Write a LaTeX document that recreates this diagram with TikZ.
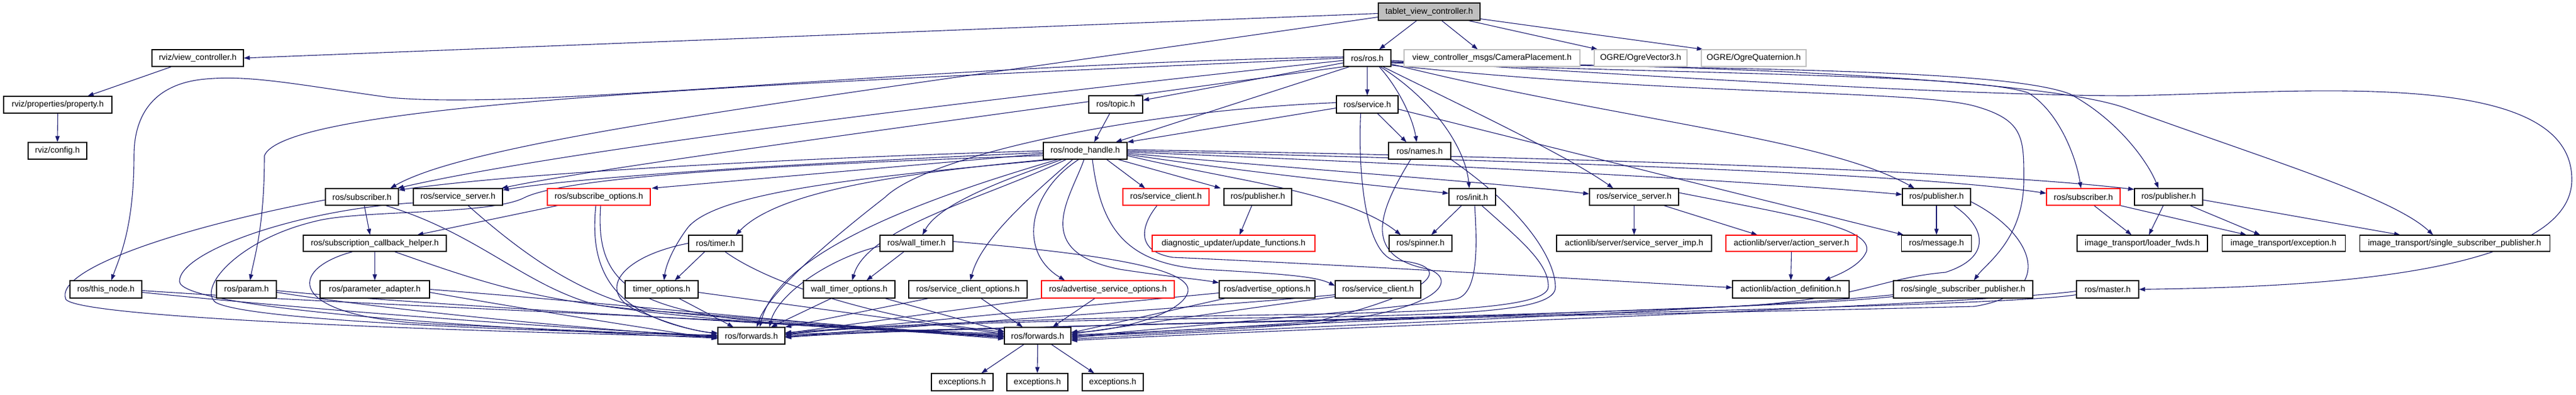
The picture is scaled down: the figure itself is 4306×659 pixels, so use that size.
\documentclass[tikz,border=0pt]{standalone}
\usepackage{fontspec}
\setmainfont{Liberation Sans}
\usetikzlibrary{arrows.meta}
\definecolor{edgec}{HTML}{191970}
\definecolor{rootfill}{HTML}{BFBFBF}
\definecolor{graybd}{HTML}{BFBFBF}
\pgfdeclarelayer{bg}
\pgfsetlayers{bg,main}
\newcommand\mknode[7]{\node[#1,minimum width=#5pt,minimum height=#6pt] (#2) at (#3,-#4) {#7};}
\begin{document}
\begin{tikzpicture}[x=1pt,y=1pt,
 box/.style={draw=black,line width=1.1pt,fill=white,inner sep=0pt,font=\fontsize{14}{16}\selectfont,text=black},
 redbox/.style={box,draw=red},
 greybox/.style={box,draw=graybd},
 rootbox/.style={box,fill=rootfill},
 e/.style={draw=edgec,line width=1.1pt,-{Triangle[length=10pt,width=7pt]}}]
\useasboundingbox (0,0) rectangle (4306,-659);
% nodes
\mknode{rootbox}{root}{2389}{19.5}{170}{29}{tablet\_view\_controller.h}
\mknode{box}{rvc}{330.5}{97}{153}{28}{rviz/view\_controller.h}
\mknode{box}{prop}{96.5}{175}{181}{28}{rviz/properties/property.h}
\mknode{box}{cfg}{96}{252}{98}{28}{rviz/config.h}
\mknode{box}{rosh}{2285.5}{97}{79}{28}{ros/ros.h}
\mknode{greybox}{cam}{2494}{97}{294}{28}{view\_controller\_msgs/CameraPlacement.h}
\mknode{greybox}{ov3}{2742.5}{97}{155}{28}{OGRE/OgreVector3.h}
\mknode{greybox}{oq}{2931.5}{97}{175}{28}{OGRE/OgreQuaternion.h}
\mknode{box}{topic}{1865}{174.5}{90}{29}{ros/topic.h}
\mknode{box}{service}{2285.5}{174.5}{103}{29}{ros/service.h}
\mknode{box}{nh}{1814}{252}{140}{28}{ros/node\_handle.h}
\mknode{box}{names}{2373}{252}{104}{28}{ros/names.h}
% row 329
\mknode{box}{subL}{605}{329}{122}{28}{ros/subscriber.h}
\mknode{box}{ssL}{765.5}{329}{149}{28}{ros/service\_server.h}
\mknode{redbox}{subopt}{1001}{329}{172}{28}{ros/subscribe\_options.h}
\mknode{redbox}{sc1}{1949}{329}{144}{28}{ros/service\_client.h}
\mknode{box}{pub1}{2102.5}{329}{113}{28}{ros/publisher.h}
\mknode{box}{init}{2461}{329}{78}{28}{ros/init.h}
\mknode{box}{ss2}{2731.5}{329}{149}{28}{ros/service\_server.h}
\mknode{box}{pub2}{3237}{329}{114}{28}{ros/publisher.h}
\mknode{redbox}{subR}{3482.5}{329}{123}{28}{ros/subscriber.h}
\mknode{box}{pub3}{3625}{329}{114}{28}{ros/publisher.h}
% row 406.5
\mknode{box}{sch}{626.5}{406.5}{239}{27}{ros/subscription\_callback\_helper.h}
\mknode{box}{timer}{1196}{406.5}{90}{27}{ros/timer.h}
\mknode{box}{wtimer}{1532}{406.5}{122}{27}{ros/wall\_timer.h}
\mknode{redbox}{diag}{2062}{406.5}{272}{27}{diagnostic\_updater/update\_functions.h}
\mknode{box}{spinner}{2374.5}{406.5}{105}{27}{ros/spinner.h}
\mknode{box}{ssimp}{2731.5}{406.5}{259}{27}{actionlib/server/service\_server\_imp.h}
\mknode{redbox}{aserv}{2994.5}{406.5}{219}{27}{actionlib/server/action\_server.h}
\mknode{box}{msg}{3237}{406.5}{117}{27}{ros/message.h}
\mknode{box}{itlf}{3581}{406.5}{218}{27}{image\_transport/loader\_fwds.h}
\mknode{box}{itex}{3817}{406.5}{206}{27}{image\_transport/exception.h}
\mknode{box}{itssp}{4103}{406.5}{318}{27}{image\_transport/single\_subscriber\_publisher.h}
% row 483.5
\mknode{box}{thisnode}{177}{483.5}{120}{29}{ros/this\_node.h}
\mknode{box}{param}{412}{483.5}{100}{29}{ros/param.h}
\mknode{box}{padapt}{626.5}{483.5}{183}{29}{ros/parameter\_adapter.h}
\mknode{box}{topt}{1106}{483.5}{122}{29}{timer\_options.h}
\mknode{box}{wtopt}{1419.5}{483.5}{153}{29}{wall\_timer\_options.h}
\mknode{box}{scopt}{1618}{483.5}{198}{29}{ros/service\_client\_options.h}
\mknode{redbox}{asopt}{1852}{483.5}{222}{29}{ros/advertise\_service\_options.h}
\mknode{box}{aopt}{2118}{483.5}{160}{29}{ros/advertise\_options.h}
\mknode{box}{sc2}{2303.5}{483.5}{143}{29}{ros/service\_client.h}
\mknode{box}{adef}{2993.5}{483.5}{195}{29}{actionlib/action\_definition.h}
\mknode{box}{ssp}{3281.5}{483.5}{233}{29}{ros/single\_subscriber\_publisher.h}
\mknode{box}{master}{3523}{483.5}{104}{29}{ros/master.h}
% bottom rows
\mknode{box}{fwdL}{1256}{561}{112}{28}{ros/forwards.h}
\mknode{box}{fwdM}{1734.5}{561}{111}{28}{ros/forwards.h}
\mknode{box}{ex1}{1608.5}{638.5}{103}{29}{exceptions.h}
\mknode{box}{ex2}{1734}{638.5}{102}{29}{exceptions.h}
\mknode{box}{ex3}{1860}{638.5}{102}{29}{exceptions.h}

\begin{pgfonlayer}{bg}
\fill[white] (0,0) rectangle (4306,-659);
% root
\draw[e] ([yshift=-3pt]root.west) -- (rvc.east);
\draw[e] ([yshift=-9pt]root.west) .. controls (1400,-160) and (800,-230) .. ([xshift=-14pt]subL.north east);
\draw[e] ([xshift=-21pt]root.south) -- ([xshift=20pt]rosh.north);
\draw[e] ([xshift=21pt]root.south) -- ([xshift=-24pt]cam.north);
\draw[e] ([xshift=66pt]root.south) -- ([xshift=-72pt]ov3.north);
\draw[e] ([yshift=-12pt]root.east) -- ([xshift=-85pt]oq.north);
\draw[e] ([xshift=-44pt]rvc.south) -- ([xshift=50pt]prop.north);
\draw[e] (prop.south) -- (cfg.north);
% ros.h
\draw[e] ([yshift=2pt]rosh.west) .. controls (1500,-110) and (900,-185) .. (652,-163) .. controls (500,-142) and (420,-125) .. (344,-132) .. controls (250,-140) and (224,-200) .. (224,-260) .. controls (224,-380) and (200,-430) .. ([xshift=9pt]thisnode.north);
\draw[e] (rosh.west) .. controls (1300,-140) and (480,-170) .. (442,-260) .. controls (442,-380) and (425,-430) .. ([xshift=6pt]param.north);
\draw[e] ([yshift=-4pt]rosh.west) .. controls (1500,-180) and (900,-260) .. ([xshift=-2pt]subL.north east);
\draw[e] (rosh.south west) .. controls (1600,-200) and (1000,-280) .. ([xshift=-2pt]ssL.north east);
\draw[e] ([yshift=-8pt]rosh.west) -- ([yshift=7pt]topic.east);
\draw[e] ([xshift=-30pt]rosh.south) -- ([xshift=51pt]nh.north);
\draw[e] (rosh.south) -- (service.north);
\draw[e] ([xshift=20pt]rosh.south) .. controls (2340,-150) and (2362,-200) .. ([xshift=-5pt]names.north);
\draw[e] ([xshift=22pt]rosh.south) .. controls (2400,-170) and (2450,-250) .. ([xshift=-5pt]init.north);
\draw[e] ([xshift=26pt]rosh.south) .. controls (2450,-180) and (2620,-260) .. ([xshift=-35pt]ss2.north);
\draw[e] ([yshift=-10pt]rosh.east) .. controls (2700,-200) and (3050,-230) .. ([xshift=-37pt]pub2.north);
\draw[e] ([yshift=-8pt]rosh.east) .. controls (2900,-125) and (3300,-125) .. (3390,-155) .. controls (3440,-185) and (3470,-260) .. ([xshift=-4pt]subR.north);
\draw[e] ([yshift=-7pt]rosh.east) .. controls (2900,-115) and (3350,-115) .. (3460,-157) .. controls (3540,-200) and (3590,-270) .. ([xshift=-17pt]pub3.north);
\draw[e] ([yshift=-6pt]rosh.east) .. controls (3000,-110) and (3450,-140) .. (3557,-182) .. controls (3800,-270) and (4000,-330) .. ([xshift=-36pt]itssp.north);
\draw[e] ([yshift=-4pt]rosh.east) .. controls (2800,-130) and (3300,-160) .. (3557,-160) .. controls (3850,-155) and (4299,-110) .. (4299,-300) .. controls (4299,-470) and (3800,-480) .. (master.east);
\draw[e] ([yshift=-12pt]rosh.east) .. controls (2800,-160) and (3200,-150) .. (3300,-177) .. controls (3383,-200) and (3383,-230) .. (3383,-300) .. controls (3383,-400) and (3320,-440) .. ([xshift=18pt]ssp.north);
% topic, service, names
\draw[e] ([xshift=-10pt]topic.south) -- ([xshift=15pt]nh.north);
\draw[e] ([yshift=-6pt]service.west) -- (nh.north east);
\draw[e] ([yshift=3pt]service.west) .. controls (1900,-185) and (1550,-260) .. (1479,-330) .. controls (1350,-430) and (1280,-500) .. ([xshift=9pt]fwdL.north);
\draw[e] ([xshift=-11pt]service.south) .. controls (2270,-280) and (2280,-420) .. (2330,-435) .. controls (2420,-440) and (2430,-480) .. (2200,-537) .. controls (2000,-552) and (1850,-558) .. ([yshift=2pt]fwdM.east);
\draw[e] ([xshift=17pt]service.south) -- ([xshift=-22pt]names.north);
\draw[e] ([yshift=-8pt]service.east) -- ([xshift=-55pt]msg.north);
\draw[e] ([xshift=-15pt]names.south) .. controls (2300,-360) and (2280,-430) .. (2389,-450) .. controls (2440,-470) and (2400,-520) .. (2200,-540) .. controls (2000,-555) and (1850,-560) .. (fwdM.east);
\draw[e] (names.south east) .. controls (2560,-360) and (2600,-440) .. (2600,-480) .. controls (2600,-520) and (2450,-525) .. (2200,-530) .. controls (1700,-535) and (1450,-545) .. ([yshift=3pt]fwdL.east);
% init
\draw[e] ([xshift=-18pt]init.south) -- ([xshift=18pt]spinner.north);
\draw[e] ([xshift=4pt]init.south) .. controls (2470,-420) and (2470,-495) .. (2431,-500) .. controls (2350,-515) and (1900,-552) .. ([yshift=-2pt]fwdM.east);
\draw[e] ([xshift=16pt]init.south) .. controls (2540,-400) and (2590,-440) .. (2588,-480) .. controls (2585,-515) and (2400,-520) .. (2200,-525) .. controls (1700,-532) and (1450,-545) .. ([yshift=5pt]fwdL.east);
% service_server (mid)
\draw[e] (ss2.south) -- (ssimp.north);
\draw[e] ([xshift=50pt]ss2.south) -- ([xshift=-57pt]aserv.north);
\draw[e] ([yshift=7pt]ss2.east) .. controls (3000,-360) and (3130,-380) .. (3120,-420) .. controls (3110,-445) and (3070,-460) .. ([xshift=56pt]adef.north);
\draw[e] (aserv.south) -- (adef.north);
% publisher (right mid)
\draw[e] (pub2.south) -- (msg.north);
\draw[e] ([xshift=29pt]pub2.south) .. controls (3320,-380) and (3330,-430) .. (3252,-455) .. controls (3140,-465) and (3110,-500) .. (2900,-512) .. controls (2400,-530) and (1900,-552) .. ([yshift=-4pt]fwdM.east);
\draw[e] ([yshift=-8pt]pub2.east) .. controls (3400,-390) and (3440,-490) .. (3300,-512) .. controls (2800,-525) and (1500,-548) .. ([yshift=1pt]fwdL.east);
% ssp, master
\draw[e] ([yshift=-9pt]ssp.west) .. controls (2900,-520) and (2000,-552) .. ([yshift=-6pt]fwdM.east);
\draw[e] ([yshift=-12pt]ssp.west) .. controls (2900,-525) and (1600,-545) .. ([yshift=-1pt]fwdL.east);
\draw[e] ([yshift=-3pt]master.west) .. controls (3300,-510) and (2100,-552) .. ([yshift=-8pt]fwdM.east);
\draw[e] ([yshift=-9pt]master.west) .. controls (3300,-520) and (1600,-540) .. ([yshift=-3pt]fwdL.east);
% image_transport
\draw[e] ([xshift=18pt]subR.south) -- ([xshift=-18pt]itlf.north);
\draw[e] (subR.south east) -- ([xshift=-62pt]itex.north);
\draw[e] ([xshift=-9pt]pub3.south) -- ([xshift=11pt]itlf.north);
\draw[e] ([xshift=36pt]pub3.south) -- ([xshift=-39pt]itex.north);
\draw[e] ([yshift=-5pt]pub3.east) -- ([xshift=-91pt]itssp.north);
% node_handle
\draw[e] (nh.west) .. controls (1400,-262) and (900,-285) .. ([yshift=-3pt]subL.north east);
\draw[e] ([yshift=-3pt]nh.west) .. controls (1400,-270) and (1000,-292) .. ([yshift=-3pt]ssL.north east);
\draw[e] ([yshift=-5pt]nh.west) -- ([xshift=2pt]subopt.north east);
\draw[e] ([yshift=-8pt]nh.west) .. controls (1300,-275) and (950,-295) .. (877,-330) .. controls (820,-360) and (600,-350) .. (526,-370) .. controls (400,-400) and (330,-480) .. (360,-505) .. controls (420,-540) and (1000,-556) .. ([yshift=1pt]fwdL.west);
\draw[e] ([xshift=-64pt]nh.south) .. controls (1500,-290) and (1300,-320) .. ([xshift=34pt]timer.north);
\draw[e] ([xshift=-54pt]nh.south) .. controls (1450,-295) and (1200,-320) .. (1150,-380) .. controls (1120,-420) and (1112,-450) .. ([xshift=4pt]topt.north);
\draw[e] ([xshift=-46pt]nh.south) .. controls (1550,-330) and (1300,-420) .. ([xshift=14pt]fwdL.north);
\draw[e] ([xshift=-39pt]nh.south) .. controls (1680,-300) and (1570,-340) .. ([xshift=10pt]wtimer.north);
\draw[e] ([xshift=-32pt]nh.south) .. controls (1650,-330) and (1450,-380) .. ([xshift=5pt]wtopt.north);
\draw[e] ([xshift=-21pt]nh.south) .. controls (1720,-330) and (1640,-400) .. ([xshift=4pt]scopt.north);
\draw[e] ([xshift=-11pt]nh.south) .. controls (1720,-320) and (1700,-420) .. ([xshift=-72pt]asopt.north);
\draw[e] ([xshift=-2pt]nh.south) .. controls (1790,-330) and (1720,-420) .. (1872,-450) .. controls (1950,-462) and (2000,-466) .. ([yshift=-4pt]aopt.north west);
\draw[e] ([xshift=12pt]nh.south) .. controls (1840,-380) and (1880,-440) .. (2012,-450) .. controls (2150,-458) and (2200,-462) .. ([yshift=6pt]sc2.west);
\draw[e] ([xshift=36pt]nh.south) -- ([xshift=-35pt]sc1.north);
\draw[e] ([xshift=55pt]nh.south) -- ([xshift=-5pt]pub1.north west);
\draw[e] ([yshift=-8pt]nh.east) .. controls (2050,-300) and (2250,-320) .. ([xshift=-33pt]spinner.north);
\draw[e] ([yshift=-6pt]nh.east) .. controls (2100,-290) and (2300,-310) .. ([yshift=6pt]init.west);
\draw[e] ([yshift=-4pt]nh.east) .. controls (2200,-285) and (2500,-305) .. ([yshift=5pt]ss2.west);
\draw[e] ([yshift=-2pt]nh.east) .. controls (2400,-275) and (2900,-300) .. ([yshift=4pt]pub2.west);
\draw[e] (nh.east) .. controls (2600,-270) and (3200,-290) .. ([yshift=6pt]subR.west);
\draw[e] ([yshift=2pt]nh.east) .. controls (2600,-262) and (3300,-285) .. ([yshift=-2pt]pub3.north west);
% service_client (red), publisher (mid)
\draw[e] ([xshift=-15pt]sc1.south) .. controls (1905,-380) and (1900,-420) .. (1960,-430) .. controls (2300,-445) and (2700,-470) .. ([yshift=3pt]adef.west);
\draw[e] ([xshift=-10pt]pub1.south) -- ([xshift=10pt]diag.north);
% left cluster
\draw[e] ([xshift=4pt]subL.south) -- ([xshift=-8pt]sch.north);
\draw[e] ([yshift=-5pt]subL.west) .. controls (300,-380) and (90,-450) .. (110,-500) .. controls (130,-530) and (700,-552) .. ([yshift=-2pt]fwdL.west);
\draw[e] ([xshift=40pt]subL.south) .. controls (800,-390) and (880,-480) .. (1000,-510) .. controls (1200,-540) and (1500,-555) .. ([yshift=2pt]fwdM.west);
\draw[e] ([yshift=-10pt]ssL.west) .. controls (500,-350) and (300,-420) .. (300,-470) .. controls (300,-515) and (800,-548) .. ([yshift=-4pt]fwdL.west);
\draw[e] ([xshift=17pt]ssL.south) .. controls (880,-430) and (980,-500) .. (1100,-520) .. controls (1300,-540) and (1550,-555) .. ([yshift=4pt]fwdM.west);
\draw[e] ([xshift=-69pt]subopt.south) -- ([xshift=71pt]sch.north);
\draw[e] ([xshift=-5pt]subopt.south) .. controls (985,-450) and (1020,-530) .. ([yshift=3pt]fwdL.west);
\draw[e] ([xshift=3pt]subopt.south) .. controls (995,-470) and (1050,-520) .. (1300,-540) .. controls (1500,-552) and (1600,-558) .. (fwdM.west);
\draw[e] (sch.south) -- (padapt.north);
\draw[e] ([xshift=-37pt]sch.south) .. controls (480,-450) and (480,-525) .. (700,-540) .. controls (900,-550) and (1100,-558) .. ([yshift=-1pt]fwdL.west);
\draw[e] ([xshift=33pt]sch.south) .. controls (800,-470) and (900,-505) .. (1100,-520) .. controls (1400,-542) and (1550,-555) .. ([yshift=-2pt]fwdM.west);
\draw[e] ([yshift=-5pt]thisnode.east) .. controls (600,-525) and (1000,-552) .. (fwdL.west);
\draw[e] ([yshift=-2pt]thisnode.east) .. controls (600,-510) and (1300,-535) .. ([yshift=-1pt]fwdM.west);
\draw[e] ([yshift=-5pt]param.east) .. controls (700,-525) and (1000,-550) .. ([yshift=-3pt]fwdL.west);
\draw[e] ([yshift=-2pt]param.east) .. controls (700,-510) and (1300,-540) .. ([yshift=-3pt]fwdM.west);
\draw[e] ([yshift=-5pt]padapt.east) .. controls (900,-520) and (1100,-552) .. ([yshift=-5pt]fwdL.west);
\draw[e] (padapt.east) .. controls (1000,-505) and (1400,-545) .. ([yshift=-5pt]fwdM.west);
% timers
\draw[e] ([xshift=-18pt]timer.south) -- ([xshift=22pt]topt.north);
\draw[e] (timer.west) .. controls (1030,-430) and (990,-495) .. (1080,-525) .. controls (1130,-545) and (1170,-555) .. ([yshift=5pt]fwdL.west);
\draw[e] ([xshift=16pt]timer.south) .. controls (1280,-470) and (1450,-530) .. ([yshift=6pt]fwdM.west);
\draw[e] ([xshift=-21pt]wtimer.south) -- ([xshift=29pt]wtopt.north);
\draw[e] ([yshift=-5pt]wtimer.west) .. controls (1390,-430) and (1300,-490) .. ([xshift=30pt]fwdL.north);
\draw[e] ([yshift=3pt]wtimer.east) .. controls (1850,-425) and (2000,-450) .. (1985,-490) .. controls (1970,-530) and (1850,-555) .. ([yshift=6pt]fwdM.east);
% options
\draw[e] ([xshift=29pt]topt.south) -- ([xshift=-30pt]fwdL.north);
\draw[e] ([yshift=-5pt]topt.east) -- ([yshift=3pt]fwdM.west);
\draw[e] ([xshift=-30pt]wtopt.south) -- ([xshift=33pt]fwdL.north);
\draw[e] ([xshift=60pt]wtopt.south) -- ([yshift=7pt]fwdM.west);
\draw[e] ([xshift=-66pt]scopt.south) -- (fwdL.north east);
\draw[e] ([xshift=22pt]scopt.south) -- ([xshift=-25pt]fwdM.north);
\draw[e] (asopt.south west) -- ([yshift=4pt]fwdL.east);
\draw[e] ([xshift=-22pt]asopt.south) -- ([xshift=25pt]fwdM.north);
\draw[e] ([yshift=-6pt]aopt.west) -- ([yshift=2pt]fwdL.east);
\draw[e] ([xshift=-70pt]aopt.south) -- ([yshift=5pt]fwdM.east);
\draw[e] ([yshift=-9pt]sc2.west) .. controls (2000,-515) and (1500,-545) .. ([yshift=-2pt]fwdL.east);
\draw[e] ([yshift=-12pt]sc2.west) .. controls (2050,-520) and (1850,-550) .. ([yshift=3pt]fwdM.east);
% forwards
\draw[e] ([xshift=-23pt]fwdM.south) -- ([xshift=32pt]ex1.north);
\draw[e] (fwdM.south) -- (ex2.north);
\draw[e] ([xshift=23pt]fwdM.south) -- ([xshift=-31pt]ex3.north);
\end{pgfonlayer}
\end{tikzpicture}
\end{document}
